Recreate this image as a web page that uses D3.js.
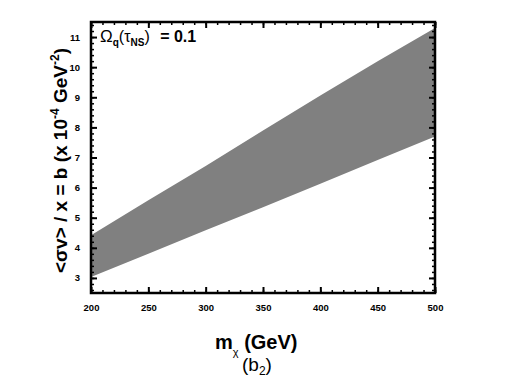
<!DOCTYPE html>
<html>
<head>
<meta charset="utf-8">
<script src="https://cdn.jsdelivr.net/npm/d3@7"></script>
<style>
  body { margin: 0; background: #fff; }
  text { font-family: Arial, "Liberation Sans", sans-serif; }
</style>
</head>
<body>
<div id="chart"></div>
<script>
// values
const massGeV = [200, 250, 300, 350, 400, 450, 500]
const bUpper = [4.42, 5.58, 6.72, 7.9, 9.06, 10.2, 11.3]
const bLower = [3.03, 3.8, 4.58, 5.35, 6.13, 6.92, 7.7]
const xTicks = [200, 250, 300, 350, 400, 450, 500]
const yTicks = [3, 4, 5, 6, 7, 8, 9, 10, 11]

const width = 505, height = 378
const margin = {left: 91, right: 70, top: 22, bottom: 85}
const w = width - margin.left - margin.right
const h = height - margin.top - margin.bottom

const svg = d3.select("#chart").append("svg")
    .attr("width", width)
    .attr("height", height)

const g = svg.append("g").attr("transform", `translate(${margin.left},${margin.top})`)

const x = d3.scaleLinear().domain([200, 500]).range([0, w])
const y = d3.scaleLinear().domain([2.5, 11.5]).range([h, 0])

const band = massGeV.map((m, i) => ({m: m, lo: bLower[i], hi: bUpper[i]}))

g.append("path")
    .datum(band)
    .attr("fill", "#808080")
    .attr("d", d3.area().x(d => x(d.m)).y0(d => y(d.lo)).y1(d => y(d.hi)))

// minor ticks
const xMinor = d3.range(200, 501, 10)
const yMinor = d3.range(2.6, 11.5, 0.2)

const minor = (axis, vals, tr) => g.append("g")
    .attr("transform", tr)
    .call(axis.tickValues(vals).tickSize(-3).tickFormat(""))
    .call(a => a.select(".domain").remove())
    .call(a => a.selectAll("line").attr("stroke-width", 1.5))

minor(d3.axisBottom(x), xMinor, `translate(0,${h})`)
minor(d3.axisTop(x), xMinor, "translate(0,0)")
minor(d3.axisLeft(y), yMinor, "translate(0,0)")
minor(d3.axisRight(y), yMinor, `translate(${w},0)`)

// major ticks
const major = (axis, vals, tr, labels) => g.append("g")
    .attr("transform", tr)
    .call(axis.tickValues(vals).tickSize(-6).tickPadding(11).tickFormat(labels ? d3.format("d") : ""))
    .call(a => a.select(".domain").remove())
    .call(a => a.selectAll("line").attr("stroke-width", 2))
    .call(a => a.selectAll("text").attr("font-size", 9.5).attr("font-weight", "bold").attr("fill", "#000"))

major(d3.axisBottom(x), xTicks, `translate(0,${h})`, true)
major(d3.axisTop(x), xTicks, "translate(0,0)", false)
major(d3.axisLeft(y), yTicks, "translate(0,0)", true)
major(d3.axisRight(y), yTicks, `translate(${w},0)`, false)

g.append("rect")
    .attr("width", w)
    .attr("height", h)
    .attr("fill", "none")
    .attr("stroke", "#000")
    .attr("stroke-width", 2.5)

// annotation
const note = g.append("text")
    .attr("x", 9)
    .attr("y", 20)
    .attr("font-size", 16)
    .attr("font-weight", "bold")
note.append("tspan").text("Ω").attr("font-weight", "normal").attr("font-size", 17)
note.append("tspan").text("q").attr("font-size", 10).attr("dy", 4)
note.append("tspan").text("(τ").attr("font-weight", "normal").attr("dy", -4)
note.append("tspan").text("NS").attr("font-size", 10).attr("dy", 4)
note.append("tspan").text(")").attr("font-weight", "normal").attr("dy", -4)
note.append("tspan").text("  = 0.1").attr("dx", 6)

// x title
const xt = svg.append("text")
    .attr("x", 215)
    .attr("y", 349)
    .attr("font-size", 20)
    .attr("font-weight", "bold")
xt.append("tspan").text("m")
xt.append("tspan").text("χ").attr("font-size", 11).attr("font-weight", "normal").attr("dy", 7)
xt.append("tspan").text(" (GeV)").attr("dy", -7)

const sub = svg.append("text")
    .attr("x", 242)
    .attr("y", 371)
    .attr("font-size", 19)
sub.append("tspan").text("(b")
sub.append("tspan").text("2").attr("font-size", 12).attr("dy", 4)
sub.append("tspan").text(")").attr("dy", -4)

// y title
const yt = svg.append("text")
    .attr("transform", `translate(67,${margin.top + h / 2 + 3}) rotate(-90)`)
    .attr("text-anchor", "middle")
    .attr("font-size", 19)
    .attr("font-weight", "bold")
yt.append("tspan").text("<σv> / x = b (x 10")
yt.append("tspan").text("-4").attr("font-size", 12).attr("dy", -8)
yt.append("tspan").text(" GeV").attr("dy", 8)
yt.append("tspan").text("-2").attr("font-size", 12).attr("dy", -8)
yt.append("tspan").text(")").attr("dy", 8)
</script>
</body>
</html>
